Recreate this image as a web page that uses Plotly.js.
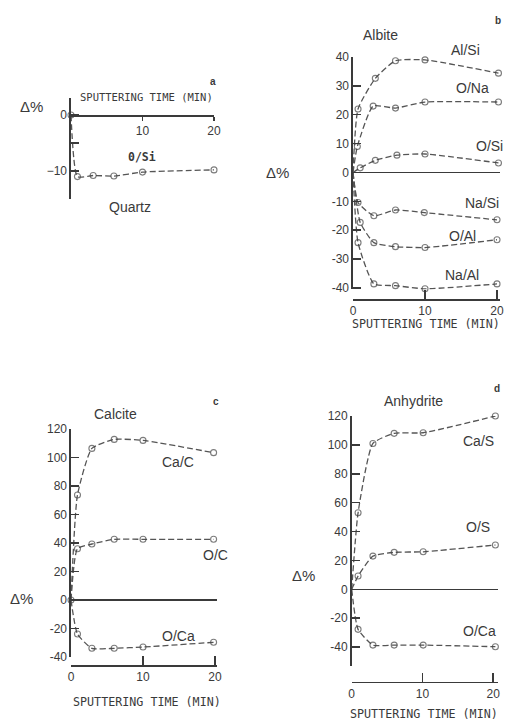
<!DOCTYPE html>
<html>
<head>
<meta charset="utf-8">
<script src="https://cdn.plot.ly/plotly-3.0.1.min.js"></script>
<style>html,body{margin:0;padding:0;background:#fff}#chart{width:509px;height:720px}</style>
</head>
<body>
<div id="chart"></div>
<script>
// ---- data ----
// (a) Quartz
const quartzT   = [0, 0.9, 3.1, 6, 10, 20];
const quartzOSi = [0, -11, -10.8, -10.9, -10.2, -9.8];
// (b) Albite
const albAlSiT = [0, 0.7, 3.1, 5.9, 10, 20.2];
const albAlSi  = [0, 22, 32.6, 38.7, 39, 34.4];
const albONaT  = [0, 0.6, 2.8, 5.9, 10, 20.2];
const albONa   = [0, 9, 23, 22.3, 24.4, 24.4];
const albOSiT  = [0, 1, 3.1, 6.1, 10, 20.2];
const albOSi   = [0, 1.6, 4.2, 6, 6.4, 3.3];
const albNaSiT = [0, 0.7, 2.9, 5.9, 9.9, 20];
const albNaSi  = [0, -10.4, -15, -13, -13.9, -16.4];
const albOAlT  = [0, 1, 2.9, 5.9, 10, 20];
const albOAl   = [0, -17.3, -24.3, -25.7, -26, -23.3];
const albNaAlT = [0, 0.7, 2.9, 5.9, 10, 20];
const albNaAl  = [0, -24.3, -38.6, -39.2, -40.3, -38.6];
// (c) Calcite
const calT    = [0, 0.9, 2.9, 6, 10, 19.8];
const calCaC  = [0, 73.7, 106.4, 112.7, 112, 103.4];
const calOC   = [0, 36, 39.3, 42.6, 42.6, 42.6];
const calOCa  = [0, -23.9, -33.9, -33.9, -33, -29.7];
// (d) Anhydrite
const anhT    = [0, 0.9, 3, 6, 10.1, 20.3];
const anhCaS  = [0, 53, 101, 108, 108.4, 120];
const anhOS   = [0, 9.2, 23, 25.6, 26, 30.7];
const anhOCa  = [0, -27.7, -38.6, -38.6, -38.6, -39.7];

const xTitle = 'SPUTTERING TIME (MIN)';

// ---- helpers ----
const W = 509, H = 720;
const px = v => v / W;
const py = v => 1 - v / H;
const ink = '#3a3a3a';
const sansFont = {family: 'Liberation Sans, Arial, sans-serif', size: 12, color: ink};

function series(x, y, xa, ya, showOrigin) {
  const sizes = x.map(t => (t === 0 && !showOrigin) ? 0 : 6);
  return {
    x: x, y: y, xaxis: xa, yaxis: ya, type: 'scatter', mode: 'lines+markers',
    line: {color: '#555', width: 1.3, dash: '6px,3px', shape: 'spline', smoothing: 0.5},
    marker: {symbol: 'circle-open', size: sizes, color: '#444', line: {width: 1.1}},
    cliponaxis: false, showlegend: false, hoverinfo: 'x+y'
  };
}

const data = [
  series(quartzT, quartzOSi, 'x', 'y', true),
  series(albAlSiT, albAlSi, 'x2', 'y2'),
  series(albONaT, albONa, 'x2', 'y2'),
  series(albOSiT, albOSi, 'x2', 'y2'),
  series(albNaSiT, albNaSi, 'x2', 'y2'),
  series(albOAlT, albOAl, 'x2', 'y2'),
  series(albNaAlT, albNaAl, 'x2', 'y2'),
  series(calT, calCaC, 'x3', 'y3'),
  series(calT, calOC, 'x3', 'y3', true),
  series(calT, calOCa, 'x3', 'y3'),
  series(anhT, anhCaS, 'x4', 'y4'),
  series(anhT, anhOS, 'x4', 'y4'),
  series(anhT, anhOCa, 'x4', 'y4')
];

function xax(range, x0, x1, pos, ticks, tickside, tlen) {
  return {
    range: range, domain: [px(x0), px(x1)], anchor: 'free', position: py(pos),
    showline: true, linecolor: ink, linewidth: 1.6, showgrid: false, zeroline: false,
    tickvals: ticks, ticks: tickside, ticklen: tlen || 9, tickwidth: 1.6, tickcolor: ink,
    tickfont: sansFont, fixedrange: true
  };
}
function yax(range, yTop, yBot, anchor, tickvals, ticktext, zl) {
  return {
    range: range, domain: [py(yBot), py(yTop)], anchor: anchor,
    showline: true, linecolor: ink, linewidth: 1.6, showgrid: false,
    zeroline: zl, zerolinecolor: ink, zerolinewidth: 1.3,
    tickvals: tickvals, ticktext: ticktext, ticks: 'inside', ticklen: 8, tickwidth: 1.5,
    tickcolor: ink, tickfont: sansFont, fixedrange: true
  };
}

function label(x, y, text, size, extra) {
  return Object.assign({x: px(x), y: py(y), xref: 'paper', yref: 'paper', text: text,
    showarrow: false, xanchor: 'center', yanchor: 'middle',
    font: {family: 'Liberation Sans, Arial, sans-serif', size: size, color: ink}}, extra || {});
}
function mono(x, y, text, size) {
  return label(x, y, text, size, {font: {family: 'DejaVu Sans Mono, monospace', size: size, color: ink}});
}

const layout = {
  width: W, height: H, margin: {l: 0, r: 0, t: 0, b: 0},
  paper_bgcolor: '#fff', plot_bgcolor: 'rgba(0,0,0,0)',
  // (a) Quartz
  xaxis:  xax([0, 20], 71, 214, 115, [10, 20], 'outside', 4),
  yaxis:  yax([-15, 3], 98.2, 199, 'x', [-15, -10, -5, 0], ['', '\u221210', '', '0'], false),
  // (b) Albite
  xaxis2: xax([0, 20.4], 353, 499.9, 299, [0, 10, 20], 'inside'),
  yaxis2: yax([-40.5, 40], 57, 289.4, 'x2', [-40, -30, -20, -10, 0, 10, 20, 30, 40],
              ['-40', '-30', '-20', '-10', '0', '10', '20', '30', '40'], true),
  // (c) Calcite
  xaxis3: xax([0, 20.3], 71, 217.2, 665, [0, 10, 20], 'inside'),
  yaxis3: yax([-40, 120], 429, 657, 'x3', [-40, -20, 0, 20, 40, 60, 80, 100, 120],
              ['-40', '-20', '0', '20', '40', '60', '80', '100', '120'], true),
  // (d) Anhydrite
  xaxis4: xax([0, 20.6], 351.7, 497.5, 681.7, [0, 10, 20], 'inside'),
  yaxis4: yax([-53, 120], 416, 665.9, 'x4', [-40, -20, 0, 20, 40, 60, 80, 100, 120],
              ['-40', '-20', '0', '20', '40', '60', '80', '100', '120'], true),
  annotations: [
    // a
    label(31, 106, '\u0394%', 15),
    mono(146, 97, xTitle, 10.5),
    label(142, 157, '<b>0/Si</b>', 12, {font: {family: 'DejaVu Sans Mono, monospace', size: 11.5, color: ink}}),
    label(130, 207, 'Quartz', 14),
    label(213, 81, '<b>a</b>', 10),
    // b
    label(380, 35, 'Albite', 14),
    label(498, 20, '<b>b</b>', 10),
    label(465, 50, 'Al/Si', 14),
    label(472, 88, 'O/Na', 14),
    label(489, 146, 'O/Si', 14),
    label(482, 203, 'Na/Si', 14),
    label(462, 236, 'O/Al', 14),
    label(462, 275, 'Na/Al', 14),
    label(277, 172, '\u0394%', 15),
    mono(426, 324, xTitle, 11.7),
    // c
    label(115, 414, 'Calcite', 14),
    label(216, 401, '<b>c</b>', 10),
    label(178, 462, 'Ca/C', 14),
    label(215, 555, 'O/C', 14),
    label(178, 636, 'O/Ca', 14),
    label(21, 598, '\u0394%', 15),
    mono(147, 702, xTitle, 11.7),
    // d
    label(413, 401, 'Anhydrite', 14),
    label(497, 388, '<b>d</b>', 10),
    label(478, 441, 'Ca/S', 14),
    label(478, 527, 'O/S', 14),
    label(479, 631, 'O/Ca', 14),
    label(303, 575, '\u0394%', 15),
    mono(424, 714, xTitle, 11.7)
  ]
};

Plotly.newPlot('chart', data, layout, {displayModeBar: false, staticPlot: true});
</script>
</body>
</html>
